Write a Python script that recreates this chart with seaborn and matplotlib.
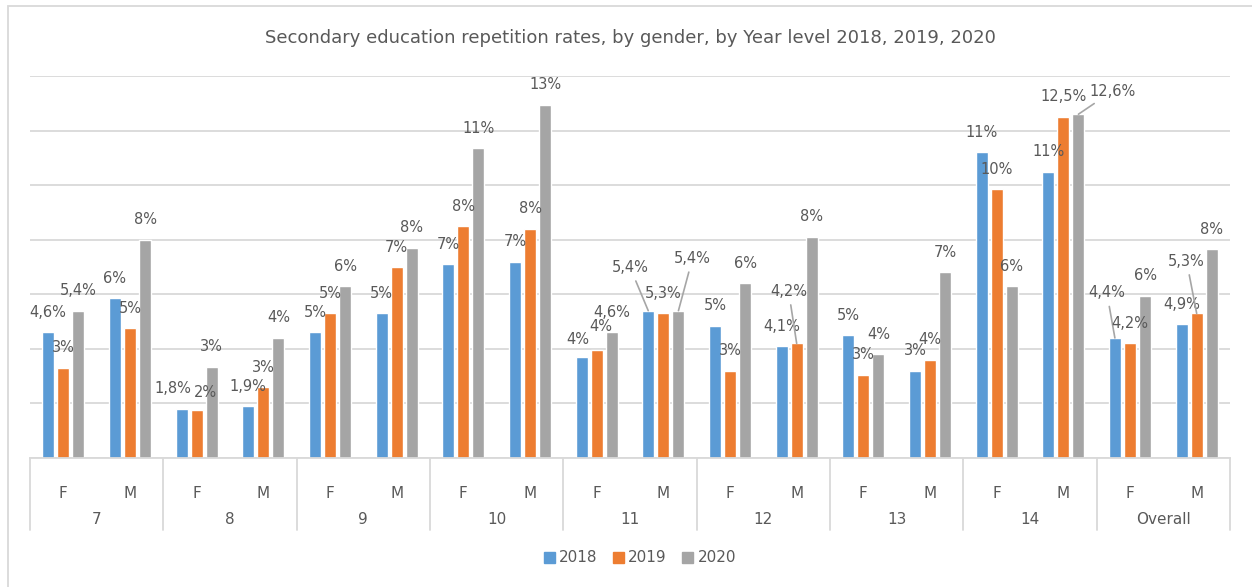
import numpy as np
import pandas as pd
import seaborn as sns
import matplotlib.pyplot as plt
from matplotlib.patches import Rectangle

# data
levels = ['7', '8', '9', '10', '11', '12', '13', '14', 'Overall']
genders = ['F', 'M']
years = ['2018', '2019', '2020']

rate_2018 = [4.6, 5.85, 1.8, 1.9, 4.6, 5.3, 7.1, 7.2, 3.7, 5.4,
             4.85, 4.1, 4.5, 3.2, 11.2, 10.5, 4.4, 4.9]
rate_2019 = [3.3, 4.75, 1.75, 2.6, 5.3, 7.0, 8.5, 8.4, 3.95, 5.3,
             3.2, 4.2, 3.05, 3.6, 9.85, 12.5, 4.2, 5.3]
rate_2020 = [5.4, 8.0, 3.35, 4.4, 6.3, 7.7, 11.35, 12.95, 4.6, 5.4,
             6.4, 8.1, 3.8, 6.8, 6.3, 12.6, 5.95, 7.65]

label_2018 = ['4,6%', '6%', '1,8%', '1,9%', '5%', '5%', '7%', '7%', '4%', '5,4%',
              '5%', '4,1%', '5%', '3%', '11%', '11%', '4,4%', '4,9%']
label_2019 = ['3%', '5%', '2%', '3%', '5%', '7%', '8%', '8%', '4%', '5,3%',
              '3%', '4,2%', '3%', '4%', '10%', '12,5%', '4,2%', '5,3%']
label_2020 = ['5,4%', '8%', '3%', '4%', '6%', '8%', '11%', '13%', '4,6%', '5,4%',
              '6%', '8%', '4%', '7%', '6%', '12,6%', '6%', '8%']

colors = ['#5B9BD5', '#ED7D31', '#A5A5A5']
text_col = '#595959'
grid_col = '#D9D9D9'

# long table for seaborn
slots = [lv + '_' + g for lv in levels for g in genders]
df = pd.DataFrame({
    'slot': slots * 3,
    'rate': rate_2018 + rate_2019 + rate_2020,
    'year': [y for y in years for _ in slots],
})

sns.set_theme(style='white')
plt.rcParams['font.family'] = ['DejaVu Sans']

fig = plt.figure(figsize=(12.52, 5.87), dpi=100)
ax = fig.add_axes([30 / 1252, 1 - 458 / 587, 1200 / 1252, 382 / 587])

sns.barplot(data=df, x='slot', y='rate', hue='year', order=slots,
            palette=colors, width=0.68, gap=0.2, saturation=1,
            errorbar=None, legend=True, ax=ax)

ax.set_ylim(0, 14)
ax.set_xlim(-0.5, len(slots) - 0.5)
ax.set_yticks(np.arange(0, 15, 2))
ax.yaxis.grid(True, color=grid_col, linewidth=1.3)
ax.set_axisbelow(True)
ax.tick_params(axis='y', left=False, labelleft=False)
for s in ['left', 'right', 'top']:
    ax.spines[s].set_visible(False)
ax.spines['bottom'].set_color(grid_col)
ax.spines['bottom'].set_linewidth(1.3)
ax.set_xlabel('')
ax.set_ylabel('')

ax.set_xticks(range(len(slots)))
ax.set_xticklabels([g for lv in levels for g in genders])
ax.tick_params(axis='x', bottom=False, pad=14, labelsize=11, labelcolor=text_col)

# second level of the category axis
tr = ax.get_xaxis_transform()
for i, lv in enumerate(levels):
    ax.text(2 * i + 0.5, -0.162, lv, transform=tr, ha='center', va='center',
            fontsize=11, color=text_col)
for k in range(len(levels) + 1):
    ax.plot([2 * k - 0.5, 2 * k - 0.5], [0, -0.188], transform=tr,
            color=grid_col, linewidth=1.3, clip_on=False)

# data labels; some are moved and get a leader line
moved = {(9, 0): (-18, 43), (9, 2): (14, 52), (11, 1): (-8, 52),
         (15, 2): (34, 23), (16, 0): (-8, 45), (17, 1): (-10, 52)}
# small nudges where labels sit on top of each other
nudged = {(2, 0): (-9, 20), (2, 1): (9, 18), (8, 0): (-4, 18), (8, 1): (4, 24)}
labels_by_year = [label_2018, label_2019, label_2020]
for j, cont in enumerate(ax.containers):
    for i, bar in enumerate(cont):
        x = bar.get_x() + bar.get_width() / 2
        h = bar.get_height()
        if (i, j) in moved:
            dx, dy = moved[(i, j)]
            ax.annotate(labels_by_year[j][i], xy=(x, h), xytext=(dx, dy),
                        textcoords='offset pixels', ha='center', va='center',
                        fontsize=10.5, color=text_col,
                        arrowprops=dict(arrowstyle='-', color='#A6A6A6',
                                        linewidth=1.2, shrinkA=2, shrinkB=0))
        else:
            dx, dy = nudged.get((i, j), (0, 20))
            ax.annotate(labels_by_year[j][i], xy=(x, h), xytext=(dx, dy),
                        textcoords='offset pixels', ha='center', va='center',
                        fontsize=10.5, color=text_col)

ax.get_legend().remove()
handles = [plt.Rectangle((0, 0), 1, 1, color=c) for c in colors]
fig.legend(handles, years, loc='center', bbox_to_anchor=(640 / 1252, 1 - 558 / 587),
           ncol=3, frameon=False, fontsize=11, labelcolor=text_col,
           handlelength=0.7, handleheight=0.7, handletextpad=0.3, columnspacing=1.0)

fig.text(630 / 1252, 1 - 38 / 587,
         'Secondary education repetition rates, by gender, by Year level 2018, 2019, 2020',
         ha='center', va='center', fontsize=13, color=text_col)

# chart area border
fig.patches.append(Rectangle((8 / 1252, -0.05), 1.1, 1 - 6 / 587 + 0.05,
                             transform=fig.transFigure, fill=False,
                             edgecolor=grid_col, linewidth=1.3))

fig.savefig('out.png', dpi=100)
